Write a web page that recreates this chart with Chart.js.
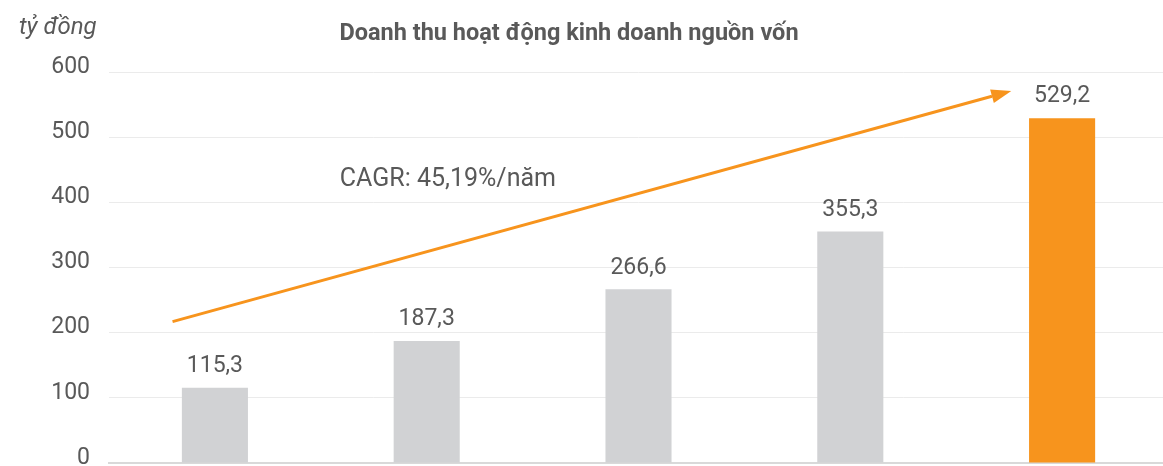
<!DOCTYPE html>
<html>
<head>
<meta charset="utf-8">
<script src="https://cdn.jsdelivr.net/npm/chart.js"></script>
<style>
  html, body { margin: 0; padding: 0; background: #fff; overflow: hidden; }
  #wrap { width: 1168px; height: 466px; }
</style>
</head>
<body>
<div id="wrap"><canvas id="chart"></canvas></div>
<script>
// data
const categories = ['1', '2', '3', '4', '5'];
const revenue = [115.3, 187.3, 266.6, 355.3, 529.2];
const barColors = ['#d1d2d4', '#d1d2d4', '#d1d2d4', '#d1d2d4', '#f7941d'];
const yTicks = [0, 100, 200, 300, 400, 500, 600];

const titleText = 'Doanh thu hoạt động kinh doanh nguồn vốn';
const unitText = 'tỷ đồng';
const cagrText = 'CAGR: 45,19%/năm';

// arrow from / to, in (category index, value)
const arrowFrom = [-0.2, 217];
const arrowTo = [3.76, 571];
const cagrAt = [1.1, 434];

const fmt = v => v.toFixed(1).replace('.', ',');
const grey = '#595959';

// Labels, title and arrow
const extras = {
  id: 'extras',
  afterDatasetsDraw(chart) {
    const ctx = chart.ctx;
    const x = chart.scales.x, y = chart.scales.y;
    ctx.save();

    // value labels above bars
    ctx.fillStyle = grey;
    ctx.font = '23px Roboto';
    ctx.textAlign = 'center';
    ctx.textBaseline = 'bottom';
    chart.getDatasetMeta(0).data.forEach((bar, i) => {
      ctx.fillText(fmt(revenue[i]), bar.x, bar.y - 10);
    });

    // title + unit
    ctx.font = 'bold 23.5px Roboto';
    ctx.textBaseline = 'middle';
    ctx.fillText(titleText, 569, 34);
    ctx.font = 'italic 24px Roboto';
    ctx.textAlign = 'left';
    ctx.fillText(unitText, 19, 28);

    // CAGR arrow
    const toPx = p => [x.getPixelForValue(p[0]), y.getPixelForValue(p[1])];
    const [x1, y1] = toPx(arrowFrom);
    const [x2, y2] = toPx(arrowTo);
    const ang = Math.atan2(y2 - y1, x2 - x1);
    const head = 20, half = 7;
    ctx.strokeStyle = '#f7941d';
    ctx.fillStyle = '#f7941d';
    ctx.lineWidth = 3;
    ctx.beginPath();
    ctx.moveTo(x1, y1);
    ctx.lineTo(x2 - Math.cos(ang) * head, y2 - Math.sin(ang) * head);
    ctx.stroke();
    ctx.beginPath();
    ctx.moveTo(x2, y2);
    ctx.lineTo(x2 - Math.cos(ang) * head + Math.sin(ang) * half, y2 - Math.sin(ang) * head - Math.cos(ang) * half);
    ctx.lineTo(x2 - Math.cos(ang) * head - Math.sin(ang) * half, y2 - Math.sin(ang) * head + Math.cos(ang) * half);
    ctx.closePath();
    ctx.fill();

    const [cx, cy] = toPx(cagrAt);
    ctx.fillStyle = grey;
    ctx.font = '25px Roboto';
    ctx.textAlign = 'center';
    ctx.fillText(cagrText, cx, cy);
    ctx.restore();
  }
};

new Chart(document.getElementById('chart'), {
  type: 'bar',
  data: {
    labels: categories,
    datasets: [{
      data: revenue,
      backgroundColor: barColors,
      categoryPercentage: 1,
      barPercentage: 0.312
    }]
  },
  options: {
    responsive: true,
    maintainAspectRatio: false,
    animation: false,
    layout: { padding: { top: 72, right: 0, bottom: -5, left: 0 } },
    plugins: { legend: { display: false }, tooltip: { enabled: false } },
    scales: {
      x: {
        grid: { display: false },
        ticks: { display: false, padding: 0 },
        border: { color: '#d9d9d9', width: 2 }
      },
      y: {
        min: 0,
        max: 600,
        afterBuildTicks: s => { s.ticks = yTicks.map(v => ({ value: v })); },
        afterFit: s => { s.width = 109; s.paddingTop = 0; s.paddingBottom = 0; },
        grid: { color: '#ebebeb', drawTicks: false },
        border: { display: false },
        ticks: {
          color: grey,
          font: { family: 'Roboto', size: 23 },
          padding: 19,
          labelOffset: -5
        }
      }
    }
  },
  plugins: [extras]
});
</script>
</body>
</html>
